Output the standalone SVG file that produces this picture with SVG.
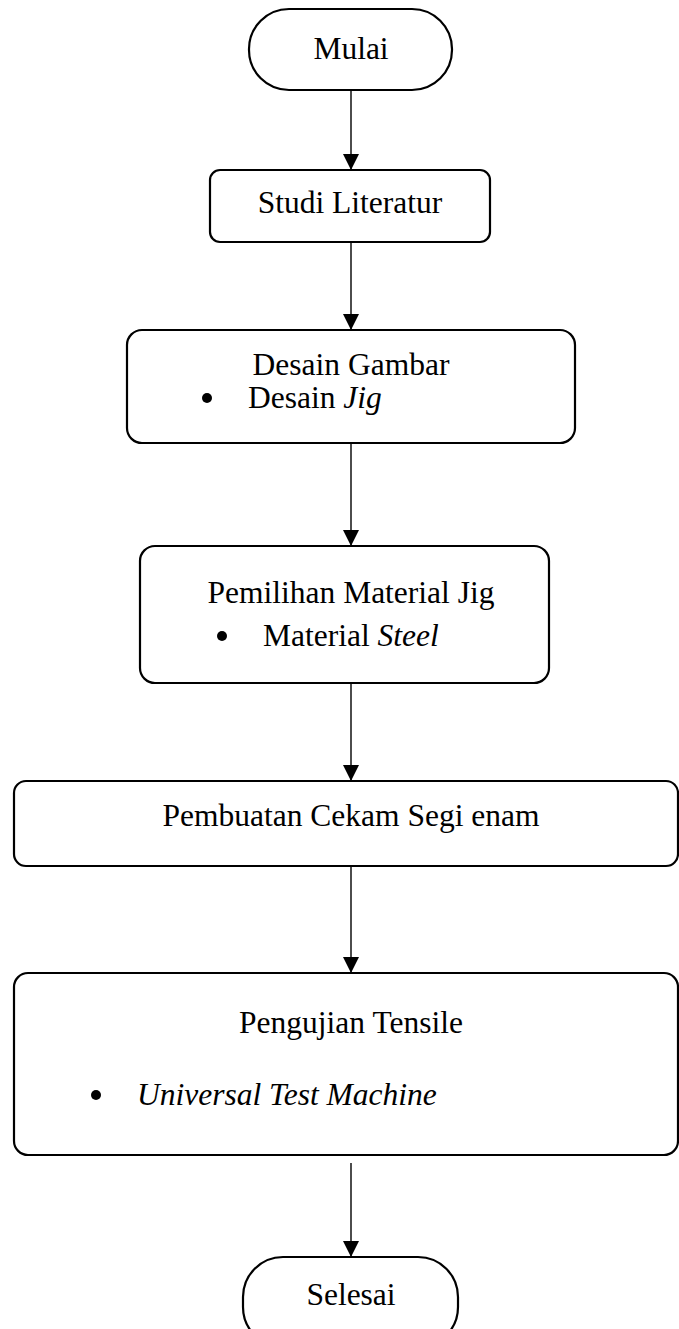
<svg xmlns="http://www.w3.org/2000/svg" width="679" height="1329" viewBox="0 0 679 1329">
<style>
.box{fill:#fff;stroke:#000;stroke-width:2.2}
.t{font-family:"Liberation Serif","Times New Roman",serif;font-size:31.5px;fill:#000}
.c{text-anchor:middle}
.i{font-style:italic}
.ln{stroke:#000;stroke-width:1.4;fill:none}
</style>
<defs>
<marker id="ah" markerUnits="userSpaceOnUse" markerWidth="17" markerHeight="16" refX="16" refY="8" orient="auto" viewBox="0 0 17 16">
<path d="M0,0 L16,8 L0,16 Z" fill="#000"/>
</marker>
</defs>
<rect width="679" height="1329" fill="#fff"/>
<g id="connectors">
<line class="ln" x1="351" y1="90" x2="351" y2="170" marker-end="url(#ah)"/>
<line class="ln" x1="351" y1="242" x2="351" y2="330" marker-end="url(#ah)"/>
<line class="ln" x1="351" y1="443" x2="351" y2="546" marker-end="url(#ah)"/>
<line class="ln" x1="351" y1="683" x2="351" y2="781" marker-end="url(#ah)"/>
<line class="ln" x1="351" y1="866" x2="351" y2="973" marker-end="url(#ah)"/>
<line class="ln" x1="351" y1="1163" x2="351" y2="1257" marker-end="url(#ah)"/>
</g>
<g id="mulai">
<rect class="box" x="249" y="9" width="203" height="81" rx="40" ry="40"/>
<text class="t c" x="351" y="59">Mulai</text>
</g>
<g id="studi">
<rect class="box" x="210" y="170" width="280" height="72" rx="10" ry="10"/>
<text class="t c" x="350" y="213">Studi Literatur</text>
</g>
<g id="desain">
<rect class="box" x="127" y="330" width="448" height="113" rx="15" ry="15"/>
<text class="t c" x="351" y="375">Desain Gambar</text>
<circle cx="207" cy="398" r="5"/>
<text class="t" x="248" y="408">Desain <tspan class="i">Jig</tspan></text>
</g>
<g id="pemilihan">
<rect class="box" x="140" y="546" width="409" height="137" rx="15" ry="15"/>
<text class="t c" x="351" y="603">Pemilihan Material Jig</text>
<circle cx="222" cy="636" r="5"/>
<text class="t" x="263" y="646">Material <tspan class="i">Steel</tspan></text>
</g>
<g id="pembuatan">
<rect class="box" x="14" y="781" width="664" height="85" rx="12" ry="12"/>
<text class="t c" x="351" y="826">Pembuatan Cekam Segi enam</text>
</g>
<g id="pengujian">
<rect class="box" x="14" y="973" width="664" height="182" rx="14" ry="14"/>
<text class="t c" x="351" y="1033">Pengujian Tensile</text>
<circle cx="96" cy="1095" r="5"/>
<text class="t i" x="137" y="1105">Universal Test Machine</text>
</g>
<g id="selesai">
<rect class="box" x="243" y="1257" width="215" height="90" rx="40" ry="40"/>
<text class="t c" x="351" y="1305">Selesai</text>
</g>
</svg>
